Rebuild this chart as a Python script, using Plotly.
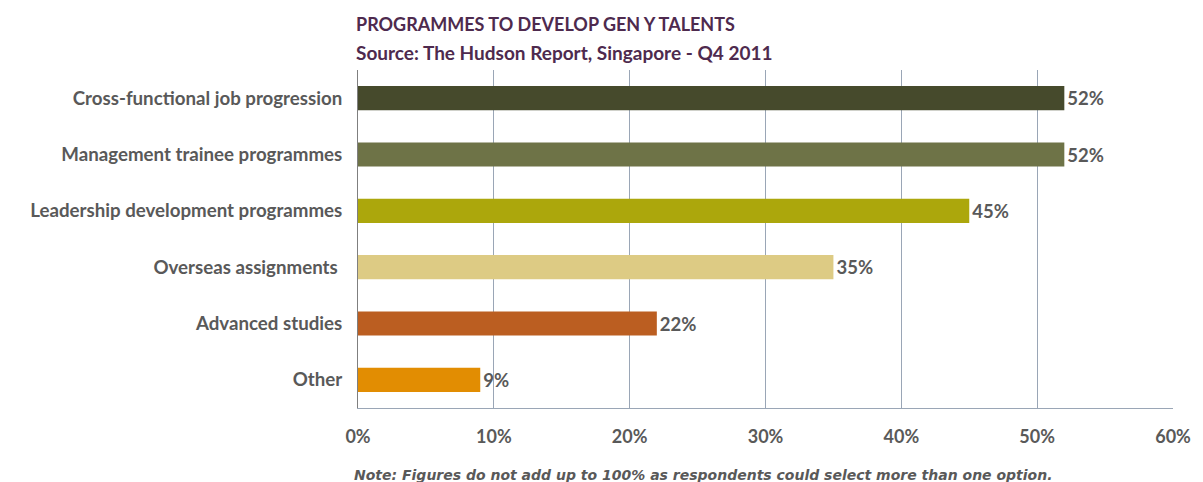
import plotly.graph_objects as go

# Survey data: share of employers using each programme
categories = [
    "Cross-functional job progression",
    "Management trainee programmes",
    "Leadership development programmes",
    "Overseas assignments ",
    "Advanced studies",
    "Other",
]
values = [52, 52, 45, 35, 22, 9]
bar_colors = ["#464a2c", "#6e7347", "#aca70c", "#ddcb84", "#bb5e21", "#e28d02"]
x_ticks = [0, 10, 20, 30, 40, 50, 60]
x_tick_labels = ["0%", "10%", "20%", "30%", "40%", "50%", "60%"]

title_text = "PROGRAMMES TO DEVELOP GEN Y TALENTS"
source_text = "Source: The Hudson Report, Singapore - Q4 2011"
note_text = "Note: Figures do not add up to 100% as respondents could select more than one option."

FONT = "Lato"
GREY = "#595959"

fig = go.Figure(
    go.Bar(
        x=values,
        y=categories,
        orientation="h",
        marker=dict(color=bar_colors, line=dict(width=0)),
        width=0.43,
        text=[f"<b>{v}%</b>" for v in values],
        textposition="outside",
        textfont=dict(family=FONT, size=18.5, color=GREY),
        cliponaxis=False,
        hoverinfo="skip",
    )
)

fig.update_layout(
    width=1203,
    height=482,
    margin=dict(l=358, r=25, t=70, b=74),
    paper_bgcolor="white",
    plot_bgcolor="white",
    showlegend=False,
    font=dict(family=FONT, color=GREY),
)

fig.update_xaxes(
    range=[0, 60],
    tickvals=x_ticks,
    ticktext=[f"<b>{t}</b>" for t in x_tick_labels],
    tickfont=dict(family=FONT, size=18, color=GREY),
    showgrid=True,
    gridcolor="#9aa6b6",
    gridwidth=1,
    zeroline=False,
    showline=True,
    linecolor="#9aa6b6",
    linewidth=1,
    ticks="",
    ticklabelstandoff=12,
)

fig.update_yaxes(
    categoryorder="array",
    categoryarray=categories[::-1],
    tickvals=categories,
    ticktext=[f"<b>{c}</b>" for c in categories],
    tickfont=dict(family=FONT, size=18.7, color=GREY),
    showgrid=False,
    zeroline=False,
    showline=True,
    linecolor="#7f7f7f",
    linewidth=1,
    ticks="",
    ticklabelstandoff=11,
)

fig.add_annotation(
    text=f"<b>{title_text}</b>",
    xref="paper", yref="paper", x=0, y=1,
    xanchor="left", yanchor="middle",
    xshift=-4, yshift=46,
    showarrow=False,
    font=dict(family=FONT, size=18, color="#4e2a4e"),
)
fig.add_annotation(
    text=f"<b>{source_text}</b>",
    xref="paper", yref="paper", x=0, y=1,
    xanchor="left", yanchor="middle",
    xshift=-4, yshift=18,
    showarrow=False,
    font=dict(family=FONT, size=19, color="#4e2a4e"),
)
fig.add_annotation(
    text=f"<b><i>{note_text}</i></b>",
    xref="paper", yref="paper", x=0, y=0,
    xanchor="left", yanchor="middle",
    xshift=-6, yshift=-67,
    showarrow=False,
    font=dict(family="DejaVu Sans", size=14, color=GREY),
)

fig.update_layout(margin=dict(r=20))

fig.write_html("out.html")
